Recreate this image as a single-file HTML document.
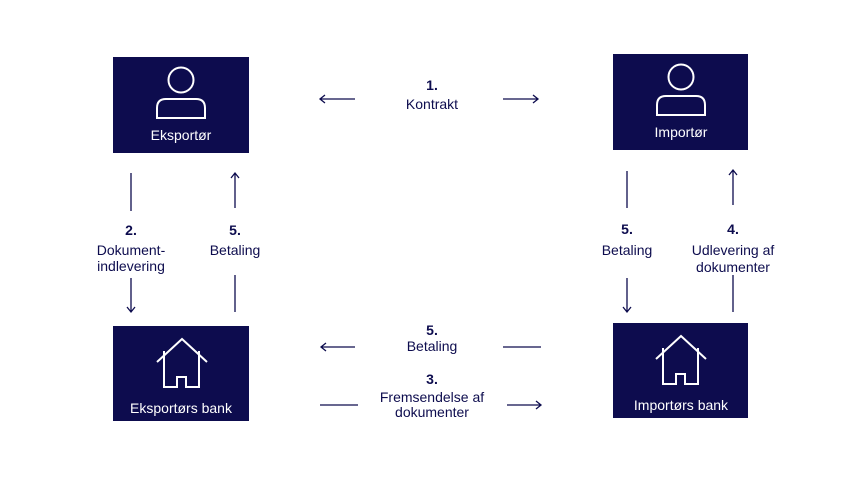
<!DOCTYPE html>
<html><head><meta charset="utf-8"><style>
html,body{margin:0;padding:0;background:#fff;}
svg{display:block;}
text{font-family:"Liberation Sans",sans-serif;}
</style></head><body>
<svg width="854" height="480" viewBox="0 0 854 480" xmlns="http://www.w3.org/2000/svg">
<defs>
<g id="person" fill="none" stroke="#fff" stroke-width="2">
  <circle cx="0" cy="0" r="12.5"/>
  <path d="M-24,38 L-24,28 Q-24,19 -15,19 L15,19 Q24,19 24,28 L24,38 Z"/>
</g>
<g id="house" fill="none" stroke="#fff" stroke-width="2">
  <path d="M-25,23 L0,0 L25,23"/>
  <path d="M-18,12 L-18,48 L-5,48 L-5,38 L4,38 L4,48 L17,48 L17,12"/>
</g>
</defs>
<g fill="#0d0c4e">
<rect x="113" y="57" width="136" height="96"/>
<rect x="613" y="54" width="135" height="96"/>
<rect x="113" y="326" width="136" height="95"/>
<rect x="613" y="323" width="135" height="95"/>
</g>
<use href="#person" x="181" y="80"/>
<use href="#person" x="681" y="77"/>
<use href="#house" x="182" y="339"/>
<use href="#house" x="681" y="336"/>
<g fill="#fff" font-size="14" text-anchor="middle">
<text x="181" y="140">Eksportør</text>
<text x="681" y="137">Importør</text>
<text x="181" y="413">Eksportørs bank</text>
<text x="681" y="410">Importørs bank</text>
</g>
<g stroke="#0d0c4e" stroke-width="1.3" fill="none">
<path d="M320,99 L355,99 M325,95 L320,99 L325,103"/>
<path d="M503,99 L538,99 M533,95 L538,99 L533,103"/>
<path d="M131,173 L131,211"/>
<path d="M131,278 L131,312 M127,307 L131,312 L135,307"/>
<path d="M235,173 L235,208 M231,178 L235,173 L239,178"/>
<path d="M235,275 L235,312"/>
<path d="M627,171 L627,208"/>
<path d="M627,278 L627,312 M623,307 L627,312 L631,307"/>
<path d="M733,170 L733,205 M729,175 L733,170 L737,175"/>
<path d="M733,275 L733,312"/>
<path d="M321,347 L355,347 M326,343 L321,347 L326,351"/>
<path d="M503,347 L541,347"/>
<path d="M320,405 L358,405"/>
<path d="M507,405 L541,405 M536,401 L541,405 L536,409"/>
</g>
<g fill="#0d0c4e" font-size="14" text-anchor="middle">
<text x="432" y="90" font-weight="bold">1.</text>
<text x="432" y="109">Kontrakt</text>
<text x="131" y="235" font-weight="bold">2.</text>
<text x="131" y="255">Dokument-</text>
<text x="131" y="271">indlevering</text>
<text x="235" y="235" font-weight="bold">5.</text>
<text x="235" y="255">Betaling</text>
<text x="627" y="234" font-weight="bold">5.</text>
<text x="627" y="255">Betaling</text>
<text x="733" y="234" font-weight="bold">4.</text>
<text x="733" y="255">Udlevering af</text>
<text x="733" y="272">dokumenter</text>
<text x="432" y="335" font-weight="bold">5.</text>
<text x="432" y="351">Betaling</text>
<text x="432" y="384" font-weight="bold">3.</text>
<text x="432" y="402">Fremsendelse af</text>
<text x="432" y="417">dokumenter</text>
</g>
</svg>
</body></html>
